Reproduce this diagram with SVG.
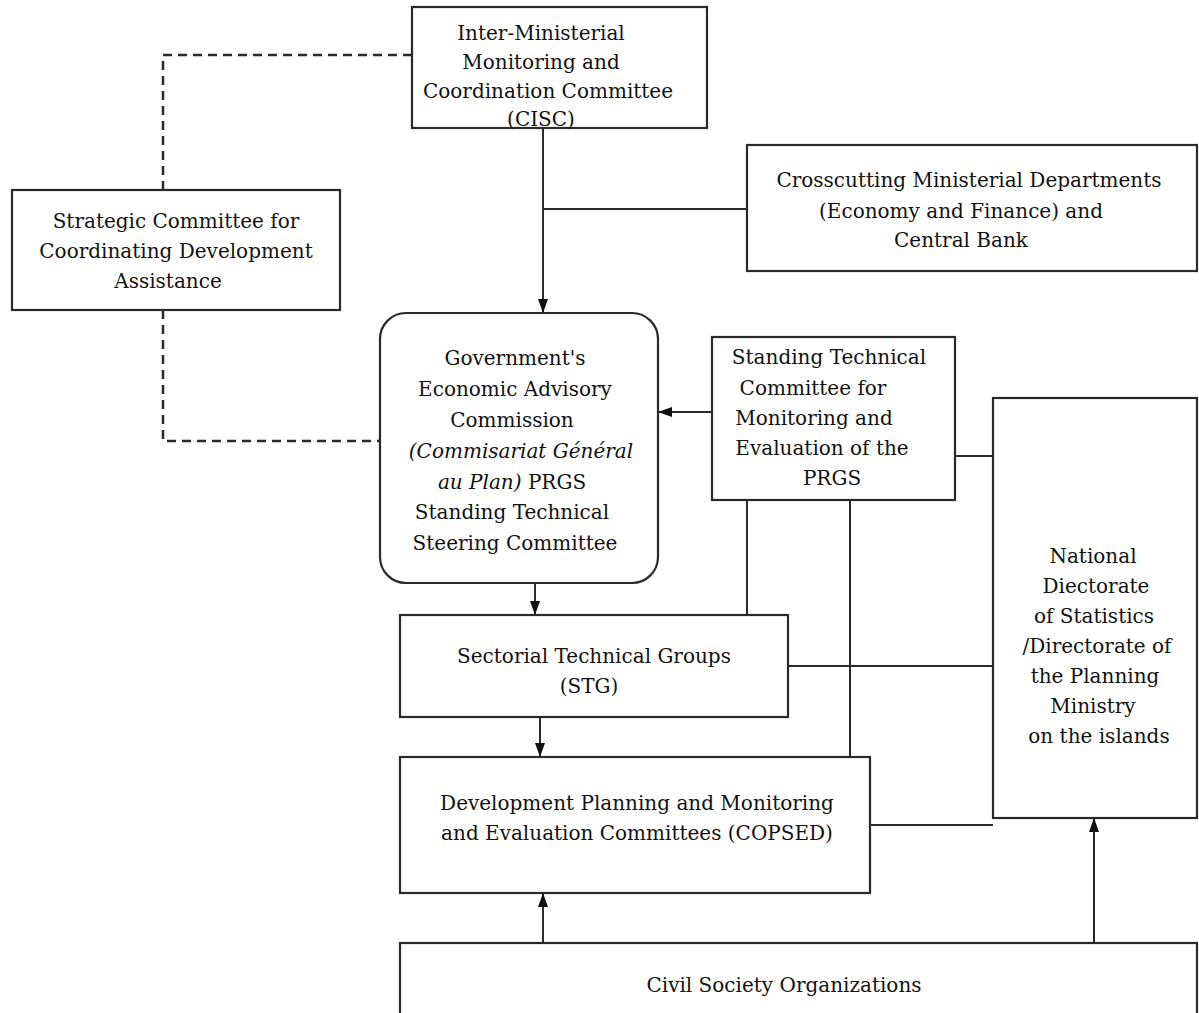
<svg xmlns="http://www.w3.org/2000/svg" width="1199" height="1013" viewBox="0 0 1199 1013">
<defs>
<style>
.box{fill:#fff;stroke:#2a2a2a;stroke-width:2.2}
.ln{fill:none;stroke:#2a2a2a;stroke-width:2}
.dash{fill:none;stroke:#2a2a2a;stroke-width:2.5;stroke-dasharray:9 6}
text{font-family:"DejaVu Serif","Liberation Serif",serif;font-size:20px;fill:#111;text-anchor:middle}
.it{font-style:italic}
</style>
<marker id="ah" viewBox="0 0 14 10" refX="14" refY="5" markerWidth="14" markerHeight="10" markerUnits="userSpaceOnUse" orient="auto">
<path d="M0,0 L14,5 L0,10 Z" fill="#111"/>
</marker>
</defs>
<rect width="1199" height="1013" fill="#fff"/>
<g id="connectors">
<path class="dash" d="M412,55 H163 V190"/>
<path class="dash" d="M163,310 V441 H380"/>
<path class="ln" d="M543,128 V313" marker-end="url(#ah)"/>
<path class="ln" d="M543,209 H747"/>
<path class="ln" d="M712,412 H658" marker-end="url(#ah)"/>
<path class="ln" d="M747,500 V615"/>
<path class="ln" d="M850,500 V757"/>
<path class="ln" d="M955,456 H993"/>
<path class="ln" d="M535,583 V615" marker-end="url(#ah)"/>
<path class="ln" d="M788,666 H993"/>
<path class="ln" d="M540,717 V757" marker-end="url(#ah)"/>
<path class="ln" d="M870,825 H993"/>
<path class="ln" d="M543,943 V893" marker-end="url(#ah)"/>
<path class="ln" d="M1094,943 V818" marker-end="url(#ah)"/>
</g>
<g id="cisc">
<rect class="box" x="412" y="7" width="295" height="121"/>
<text x="541" y="40">Inter-Ministerial</text>
<text x="541" y="69">Monitoring and</text>
<text x="548" y="98">Coordination Committee</text>
<text x="541" y="126">(CISC)</text>
</g>
<g id="strategic">
<rect class="box" x="12" y="190" width="328" height="120"/>
<text x="176" y="228">Strategic Committee for</text>
<text x="176" y="258">Coordinating Development</text>
<text x="168" y="288">Assistance</text>
</g>
<g id="crosscutting">
<rect class="box" x="747" y="145" width="450" height="126"/>
<text x="969" y="187">Crosscutting Ministerial Departments</text>
<text x="961" y="218">(Economy and Finance) and</text>
<text x="961" y="247">Central Bank</text>
</g>
<g id="commission">
<rect class="box" x="380" y="313" width="278" height="270" rx="26" ry="26"/>
<text x="515" y="365">Government's</text>
<text x="515" y="396">Economic Advisory</text>
<text x="512" y="427">Commission</text>
<text x="521" y="458" class="it">(Commisariat Général</text>
<text x="512" y="489"><tspan class="it">au Plan)</tspan> PRGS</text>
<text x="512" y="519">Standing Technical</text>
<text x="515" y="550">Steering Committee</text>
</g>
<g id="stc">
<rect class="box" x="712" y="337" width="243" height="163"/>
<text x="829" y="364">Standing Technical</text>
<text x="813" y="395">Committee for</text>
<text x="814" y="425">Monitoring and</text>
<text x="822" y="455">Evaluation of the</text>
<text x="832" y="485">PRGS</text>
</g>
<g id="national">
<rect class="box" x="993" y="398" width="204" height="420"/>
<text x="1093" y="563">National</text>
<text x="1096" y="593">Diectorate</text>
<text x="1094" y="623">of Statistics</text>
<text x="1097" y="653">/Directorate of</text>
<text x="1095" y="683">the Planning</text>
<text x="1093" y="713">Ministry</text>
<text x="1099" y="743">on the islands</text>
</g>
<g id="stg">
<rect class="box" x="400" y="615" width="388" height="102"/>
<text x="594" y="663">Sectorial Technical Groups</text>
<text x="589" y="693">(STG)</text>
</g>
<g id="copsed">
<rect class="box" x="400" y="757" width="470" height="136"/>
<text x="637" y="810">Development Planning and Monitoring</text>
<text x="637" y="840">and Evaluation Committees (COPSED)</text>
</g>
<g id="civil">
<rect class="box" x="400" y="943" width="797" height="80"/>
<text x="784" y="992">Civil Society Organizations</text>
</g>
</svg>
